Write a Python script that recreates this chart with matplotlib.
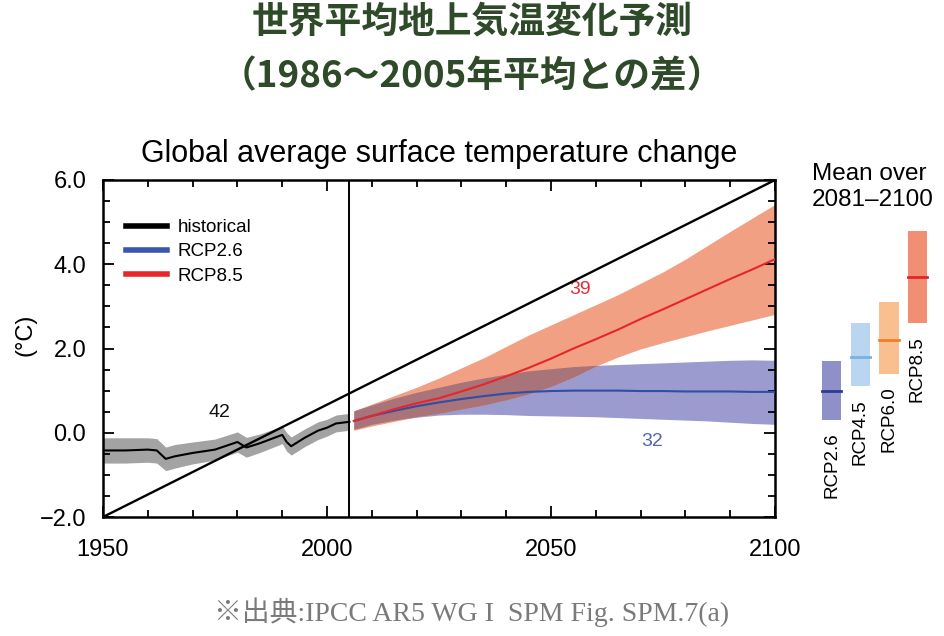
import matplotlib
matplotlib.use("Agg")
import matplotlib.pyplot as plt
from matplotlib.lines import Line2D
import numpy as np

# ---------------- data ----------------
hist_years = [1950, 1955, 1960, 1962, 1964, 1966, 1970, 1975, 1980, 1982, 1985,
              1990, 1991, 1992, 1995, 1998, 2000, 2002, 2005]
hist_mean = [-0.42, -0.42, -0.40, -0.42, -0.62, -0.56, -0.48, -0.40, -0.22, -0.35, -0.25,
             -0.05, -0.22, -0.32, -0.12, 0.05, 0.12, 0.22, 0.26]
hist_low = [-0.72, -0.72, -0.70, -0.72, -0.90, -0.84, -0.74, -0.65, -0.46, -0.58, -0.47,
            -0.26, -0.44, -0.53, -0.33, -0.16, -0.08, 0.02, 0.06]
hist_high = [-0.12, -0.12, -0.12, -0.14, -0.34, -0.28, -0.22, -0.15, 0.02, -0.11, -0.03,
             0.16, 0.00, -0.10, 0.09, 0.26, 0.32, 0.42, 0.46]

proj_years = [2006, 2010, 2015, 2020, 2025, 2030, 2035, 2040, 2045, 2050,
              2055, 2060, 2065, 2070, 2075, 2080, 2085, 2090, 2095, 2100]
rcp85_mean = [0.28, 0.40, 0.56, 0.70, 0.82, 0.98, 1.15, 1.34, 1.54, 1.76,
              2.00, 2.22, 2.45, 2.70, 2.93, 3.17, 3.41, 3.65, 3.88, 4.12]
rcp85_low = [0.06, 0.16, 0.27, 0.38, 0.46, 0.56, 0.66, 0.78, 0.92, 1.10,
             1.32, 1.58, 1.80, 1.99, 2.14, 2.28, 2.42, 2.55, 2.68, 2.81]
rcp85_high = [0.52, 0.68, 0.88, 1.08, 1.30, 1.54, 1.78, 2.05, 2.32, 2.56,
              2.80, 3.04, 3.28, 3.55, 3.82, 4.12, 4.45, 4.78, 5.10, 5.42]
rcp26_mean = [0.28, 0.40, 0.52, 0.63, 0.72, 0.80, 0.87, 0.93, 0.97, 0.99,
              1.00, 1.00, 1.00, 0.99, 0.99, 0.98, 0.98, 0.98, 0.97, 0.97]
rcp26_low = [0.08, 0.20, 0.30, 0.37, 0.42, 0.44, 0.44, 0.43, 0.41, 0.40,
             0.39, 0.38, 0.36, 0.34, 0.32, 0.30, 0.28, 0.25, 0.22, 0.20]
rcp26_high = [0.52, 0.66, 0.82, 0.96, 1.08, 1.20, 1.30, 1.39, 1.47, 1.52,
              1.57, 1.60, 1.62, 1.64, 1.66, 1.68, 1.70, 1.72, 1.73, 1.72]

diag_x = [1950, 2100]
diag_y = [-2.0, 6.0]
split_year = 2005

bar_names = ["RCP2.6", "RCP4.5", "RCP6.0", "RCP8.5"]
bar_mean = [1.0, 1.8, 2.2, 3.7]
bar_low = [0.3, 1.1, 1.4, 2.6]
bar_high = [1.7, 2.6, 3.1, 4.8]

x_ticks = [1950, 2000, 2050, 2100]
y_ticks = [-2.0, 0.0, 2.0, 4.0, 6.0]
y_ticklabels = ["\u22122.0", "0.0", "2.0", "4.0", "6.0"]

counts = [("42", 1976, 0.47, "#111111"),
          ("39", 2056.5, 3.39, "#e0303a"),
          ("32", 2072.5, -0.20, "#5563b5")]

# ---------------- style ----------------
plt.rcParams['font.family'] = ['Liberation Sans', 'DejaVu Sans']

W, H = 944, 636
fig = plt.figure(figsize=(W / 100, H / 100), dpi=100)

ax_l, ax_r, ax_t, ax_b = 103, 775, 180, 517
ax = fig.add_axes([ax_l / W, 1 - ax_b / H, (ax_r - ax_l) / W, (ax_b - ax_t) / H])

c_gray = "#a3a3a3"
c_red_band = "#f2a083"
c_blue_band = "#9b9bcf"
c_overlap = "#a87379"
c_red = "#e8262a"
c_blue = "#2f4ea6"

ax.fill_between(hist_years, hist_low, hist_high, color=c_gray, lw=0, zorder=1)
ax.fill_between(proj_years, rcp26_low, rcp26_high, color=c_blue_band, lw=0, zorder=1)
ax.fill_between(proj_years, rcp85_low, rcp85_high, color=c_red_band, lw=0, zorder=1)
ov_low = np.maximum(rcp85_low, rcp26_low)
ov_high = np.minimum(rcp85_high, rcp26_high)
ax.fill_between(proj_years, ov_low, ov_high, where=ov_high > ov_low,
                interpolate=True, color=c_overlap, lw=0, zorder=1.5)

ax.plot(hist_years, hist_mean, color="black", lw=1.5, zorder=3)
ax.plot(proj_years, rcp26_mean, color=c_blue, lw=1.5, zorder=3)
ax.plot(proj_years, rcp85_mean, color=c_red, lw=1.5, zorder=3.5)

ax.plot(diag_x, diag_y, color="black", lw=1.7, zorder=4)
ax.axvline(split_year, color="black", lw=1.4, zorder=4)

for txt, xx, yy, col in counts:
    ax.text(xx, yy, txt, color=col, fontsize=14, ha="center", va="center")

ax.set_xlim(1950, 2100)
ax.set_ylim(-2, 6)
ax.set_xticks(x_ticks)
ax.set_xticks(np.arange(1950, 2101, 10), minor=True)
ax.set_yticks(y_ticks)
ax.set_yticklabels(y_ticklabels)
ax.set_yticks(np.arange(-2, 6.01, 0.5), minor=True)
ax.tick_params(which="both", direction="in", top=True, right=True, width=1.3,
               labelsize=17, color="black")
ax.tick_params(which="major", length=8)
ax.tick_params(which="minor", length=5)
ax.tick_params(axis="x", which="major", pad=16)
ax.tick_params(axis="y", which="major", pad=12)
for s in ax.spines.values():
    s.set_linewidth(1.8)

ax.set_title("Global average surface temperature change", fontsize=22, pad=13)
ax.set_ylabel("(\u00b0C)", fontsize=17)
ax.yaxis.set_label_coords((36 - ax_l) / (ax_r - ax_l), (ax_b - 335) / (ax_b - ax_t))

handles = [Line2D([], [], color="black", lw=4),
           Line2D([], [], color="#3a56b0", lw=4),
           Line2D([], [], color="#e8262a", lw=4)]
ax.legend(handles, ["historical", "RCP2.6", "RCP8.5"], loc="upper left",
          bbox_to_anchor=((126 - ax_l) / (ax_r - ax_l), (ax_b - 219) / (ax_b - ax_t)),
          frameon=False, borderpad=0, borderaxespad=0, handlelength=2.2,
          handletextpad=0.55, labelspacing=0.38, fontsize=13.5)

# ---------------- right panel ----------------
ax2 = fig.add_axes([810 / W, 1 - ax_b / H, 130 / W, (ax_b - ax_t) / H])
ax2.set_xlim(-0.76, 3.79)
ax2.set_ylim(-2, 6)
ax2.axis("off")
bar_fill = ["#8f90c8", "#b9d5ef", "#f9bf8f", "#f08f72"]
bar_line = ["#2a3b92", "#77b2e3", "#f07e2c", "#e3252a"]
bw = 0.68
xs = np.arange(len(bar_names))
ax2.bar(xs, np.array(bar_high) - np.array(bar_low), bottom=bar_low, width=bw,
        color=bar_fill, lw=0)
for i in range(len(bar_names)):
    ax2.plot([xs[i] - bw / 2, xs[i] + bw / 2], [bar_mean[i]] * 2, color=bar_line[i], lw=2)
    ax2.text(xs[i], bar_low[i] - 0.3, bar_names[i], rotation=90, ha="center", va="top",
             fontsize=13.5)

fig.text(812 / W, 1 - 163 / H, "Mean over\n2081\u20132100", fontsize=17.5,
         ha="left", va="top", linespacing=1.22)

# ---------------- Japanese header & caption ----------------
title_col = "#2e4a29"
fig.text(0.5, 1 - 22 / H, "世界平均地上気温変化予測", fontsize=26.5, fontweight="bold",
         color=title_col, ha="center", va="center", family=["Noto Sans CJK JP"])
fig.text(0.5, 1 - 77 / H, "（1986～2005年平均との差）", fontsize=26.5, fontweight="bold",
         color=title_col, ha="center", va="center", family=["Noto Sans CJK JP"])
fig.text(0.5, 1 - 612 / H, "※出典:IPCC AR5 WG I  SPM Fig. SPM.7(a)", fontsize=20,
         color="#7a7a7a", ha="center", va="center",
         family=["Liberation Serif", "Noto Sans CJK JP"])

fig.savefig("out.png", dpi=100)
